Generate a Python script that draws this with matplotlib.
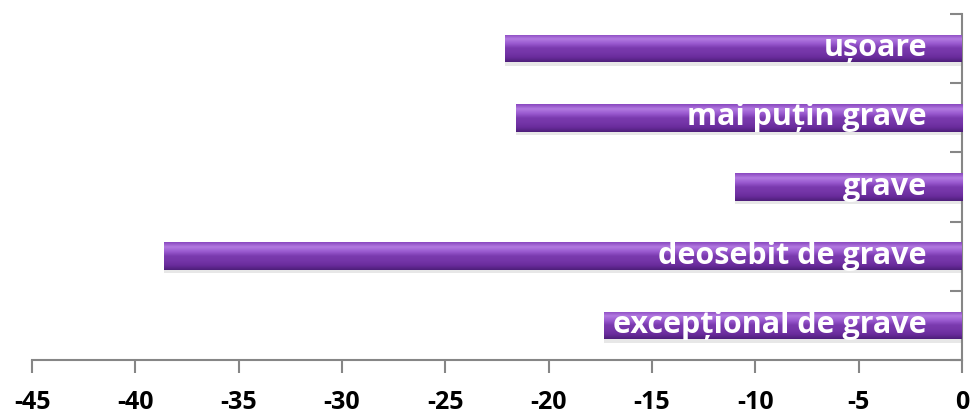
import numpy as np
import matplotlib.pyplot as plt
from matplotlib.colors import LinearSegmentedColormap

# categories from bottom to top
categories = ['excepțional de grave', 'deosebit de grave', 'grave',
              'mai puțin grave', 'ușoare']
values = [-17.3, -38.6, -11.0, -21.6, -22.1]
xticks = [-45, -40, -35, -30, -25, -20, -15, -10, -5, 0]

fig = plt.figure(figsize=(9.73, 4.14), dpi=100)
ax = fig.add_axes([0.0329, 0.128, 0.9558, 0.836])

pos = np.arange(len(categories))
h = 0.4

# vertical gradient for the bevelled look
cmap = LinearSegmentedColormap.from_list(
    'bev', ['#4e1f7a', '#6a2c9c', '#7535a8', '#7a3aae', '#9a5ad0', '#b27ae0', '#8a48c0'])
grad = np.linspace(0, 1, 64).reshape(-1, 1)

for y, v, name in zip(pos, values, categories):
    # soft shadow
    ax.barh(y - 0.05, v, height=h, left=0.0, color='#bdbdbd', alpha=0.35,
            edgecolor='none', zorder=1)
    bar = ax.barh(y, v, height=h, color='#7030a0', edgecolor='none', zorder=2)[0]
    im = ax.imshow(grad, aspect='auto', cmap=cmap, origin='lower',
                   extent=[v, 0, y - h / 2, y + h / 2], zorder=3)
    im.set_clip_path(bar)
    ax.text(-1.7, y + 0.02, name, ha='right', va='center',
            color='white', fontsize=22, fontweight='bold', family='Open Sans',
            zorder=4)

ax.set_xlim(-45, 0)
ax.set_ylim(-0.5, len(categories) - 0.5)
ax.set_xticks(xticks)
ax.set_xticklabels([str(t) for t in xticks], fontsize=18, fontweight='bold',
                   family='Open Sans')
ax.set_yticks(np.arange(-0.5, len(categories), 1.0))
ax.set_yticklabels([])

for s in ['top', 'left']:
    ax.spines[s].set_visible(False)
ax.spines['bottom'].set_color('#868686')
ax.spines['bottom'].set_linewidth(1.5)
ax.tick_params(axis='x', direction='out', length=9, width=1.5, color='#868686', pad=12)
ax.spines['right'].set_color('#868686')
ax.spines['right'].set_linewidth(1.5)
ax.tick_params(axis='y', direction='in', length=9, width=1.5, color='#868686',
               left=False, right=True, labelleft=False, labelright=False)

fig.savefig('out.png', dpi=100)
